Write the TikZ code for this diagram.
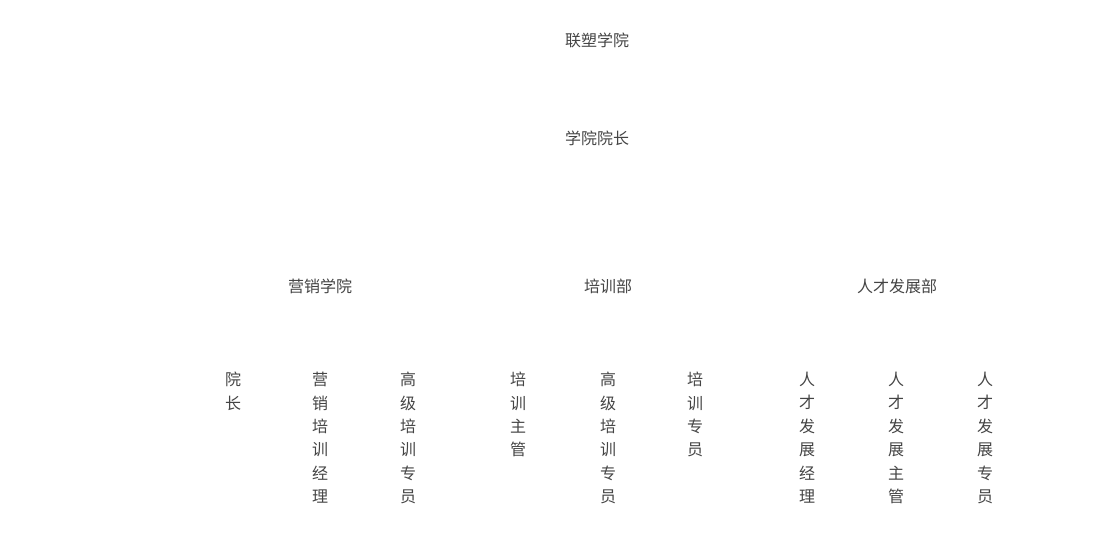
\documentclass[tikz,border=0pt]{standalone}
\usepackage{fontspec}
\newfontfamily\cjk{Noto Sans CJK SC}
\definecolor{txt}{HTML}{444444}
\begin{document}
\begin{tikzpicture}[x=1pt,y=-1pt,
  lbl/.style={font=\cjk\fontsize{16}{23.4}\selectfont,text=txt,inner sep=0pt},
  vert/.style={lbl,align=center,anchor=north}]
\useasboundingbox (0,0) rectangle (1100,545);
\node[lbl] (lians) at (597,40) {联塑学院};
\node[lbl] (dean) at (597,138) {学院院长};
\node[lbl] (yx) at (320,286) {营销学院};
\node[lbl] (px) at (608,286) {培训部};
\node[lbl] (rc) at (897,286) {人才发展部};
\node[vert] (a1) at (233,372) {院\\长};
\node[vert] (a2) at (320,372) {营\\销\\培\\训\\经\\理};
\node[vert] (a3) at (408,372) {高\\级\\培\\训\\专\\员};
\node[vert] (b1) at (518,372) {培\\训\\主\\管};
\node[vert] (b2) at (608,372) {高\\级\\培\\训\\专\\员};
\node[vert] (b3) at (695,372) {培\\训\\专\\员};
\node[vert] (c1) at (807,372) {人\\才\\发\\展\\经\\理};
\node[vert] (c2) at (896,372) {人\\才\\发\\展\\主\\管};
\node[vert] (c3) at (985,372) {人\\才\\发\\展\\专\\员};
\end{tikzpicture}
\end{document}
